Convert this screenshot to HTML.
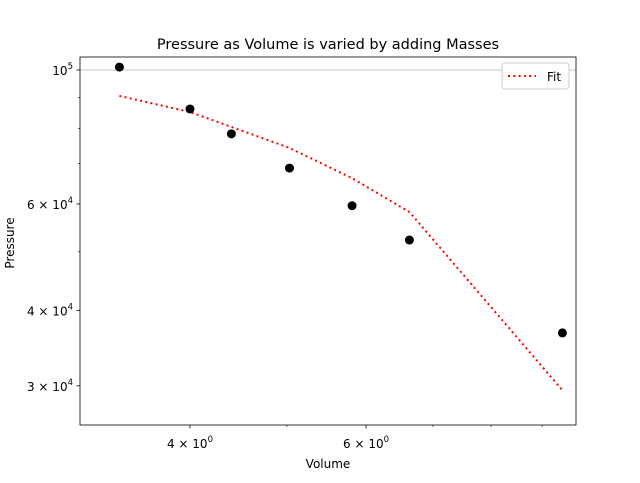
<!DOCTYPE html>
<html><head><meta charset="utf-8"><style>
body{margin:0;background:#fff;}
svg text{font-family:"DejaVu Sans","Liberation Sans",sans-serif;fill:#000;}
</style></head><body>
<svg id="chart" width="640" height="478">
<rect x="0" y="0" width="640" height="478" fill="#fff"/>
<g id="plot"></g>
</svg>
<script>
const volumes = [3.40, 4.00, 4.40, 5.03, 5.81, 6.63, 9.43];
const pressures = [101100, 86200, 78400, 68800, 59600, 52300, 36700];
const fitPressures = [90600, 85200, 80500, 74300, 66200, 58200, 29500];
const xMajorTicks = [4, 6];
const xMajorLabels = ["4", "6"];
const xMinorTicks = [5, 7, 8, 9];
const yTicks = [100000, 60000, 40000, 30000];
const yTickMant = ["", "6", "4", "3"];
const yMinorTicks = [50000, 70000, 80000, 90000];

const L=80,R=576,T=57,B=425;
const xmin=Math.log10(3.105), xmax=Math.log10(9.73);
const ymin=Math.log10(25837), ymax=5.0215;
const X=v=>L+(Math.log10(v)-xmin)/(xmax-xmin)*(R-L);
const Y=v=>B-(Math.log10(v)-ymin)/(ymax-ymin)*(B-T);
const NS="http://www.w3.org/2000/svg";
const g=document.getElementById('plot');
function mk(tag,attrs,parent){const e=document.createElementNS(NS,tag);for(const k in attrs)e.setAttribute(k,attrs[k]);(parent||g).appendChild(e);return e;}

const grid=mk('line',{x1:L,x2:R,y1:Y(100000),y2:Y(100000),stroke:'#b0b0b0','stroke-width':0.8});



const fit=mk('polyline',{points:volumes.map((v,i)=>X(v)+','+Y(fitPressures[i])).join(' '),fill:'none',stroke:'#ff0000','stroke-width':2,'stroke-dasharray':'2,3.3'});



volumes.forEach((v,i)=>{
  const c=mk('circle',{cx:X(v),cy:Y(pressures[i]),r:4.5,fill:'#000'});
  
  
});

const fr=mk('rect',{x:L,y:T,width:R-L,height:B-T,fill:'none',stroke:'#000','stroke-width':0.8});



xMajorTicks.forEach((t,i)=>{
  const x=X(t);
  mk('line',{x1:x,x2:x,y1:B,y2:B+3.5,stroke:'#000','stroke-width':0.8});
  const tx=mk('text',{x:x,y:B+23,'font-size':12,'text-anchor':'middle'});
  tx.innerHTML=xMajorLabels[i]+' × 10<tspan dy="-6" font-size="8.5">0</tspan>';
  
  
});
xMinorTicks.forEach(t=>{const x=X(t);mk('line',{x1:x,x2:x,y1:B,y2:B+2,stroke:'#000','stroke-width':0.6});});

yTicks.forEach((t,i)=>{
  const y=Y(t);
  mk('line',{x1:L-3.5,x2:L,y1:y,y2:y,stroke:'#000','stroke-width':0.8});
  const tx=mk('text',{x:L-7,y:y+5,'font-size':12,'text-anchor':'end'});
  tx.innerHTML=(yTickMant[i]?yTickMant[i]+' × ':'')+'10<tspan dy="-6" font-size="8.5">'+(yTickMant[i]?'4':'5')+'</tspan>';
  
  
});
yMinorTicks.forEach(t=>{const y=Y(t);mk('line',{x1:L-2,x2:L,y1:y,y2:y,stroke:'#000','stroke-width':0.6});});

const t=mk('text',{x:328,y:49,'font-size':14.5,'text-anchor':'middle'});t.textContent='Pressure as Volume is varied by adding Masses';

const xl=mk('text',{x:328,y:468,'font-size':12,'text-anchor':'middle'});xl.textContent='Volume';

const yl=mk('text',{x:14,y:243,'font-size':12,'text-anchor':'middle',transform:'rotate(-90 14 243)'});yl.textContent='Pressure';


const lg=mk('g',{});

mk('rect',{x:502,y:63,width:67,height:26,rx:3,fill:'#fff',stroke:'#ccc','stroke-width':1},lg);
mk('line',{x1:508,x2:536,y1:76,y2:76,stroke:'#ff0000','stroke-width':2,'stroke-dasharray':'2,3.3'},lg);
const lt=mk('text',{x:547,y:81,'font-size':12},lg);lt.textContent='Fit';

</script>
</body></html>
